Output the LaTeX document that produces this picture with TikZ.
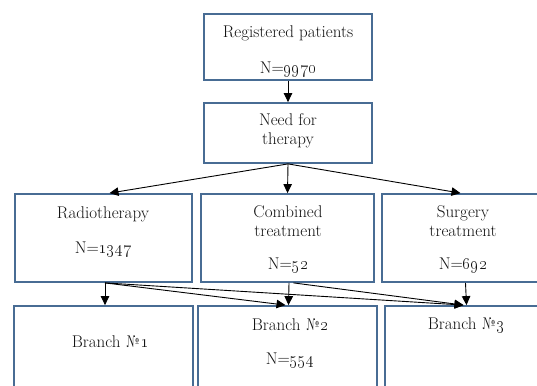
\documentclass[tikz,border=0pt]{standalone}
\usetikzlibrary{arrows.meta,calc}
\definecolor{boxblue}{RGB}{72,108,148}
\definecolor{txt}{RGB}{20,20,20}
\begin{document}
\begin{tikzpicture}[x=1pt,y=-1pt,
  box/.style={draw=boxblue,line width=1.8pt,fill=white,rectangle,inner sep=0pt},
  lbl/.style={text=txt,font=\fontsize{17}{18.5}\selectfont,align=center,inner sep=0pt},
  arr/.style={line width=0.9pt,-{Triangle[length=9pt,width=8.5pt]}}]
\useasboundingbox (0,0) rectangle (537,385);
\clip (0,0) rectangle (537,385);
\fill[white] (0,0) rectangle (537,385);
% boxes
\node[box,minimum width=168pt,minimum height=66pt] (reg) at (288,47) {};
\node[box,minimum width=168pt,minimum height=60pt] (need) at (288,133) {};
\node[box,minimum width=177pt,minimum height=88pt] (radio) at (103.5,238) {};
\node[box,minimum width=173pt,minimum height=88pt] (comb) at (287.5,238) {};
\node[box,minimum width=163pt,minimum height=88pt] (surg) at (463.5,238) {};
\node[box,minimum width=179pt,minimum height=94pt] (b1) at (103.5,353) {};
\node[box,minimum width=179pt,minimum height=94pt] (b2) at (287.5,353) {};
\node[box,minimum width=163pt,minimum height=94pt] (b3) at (466.5,353) {};
% texts
\node[lbl] (t1) at (288,33) {Registered patients};
\node[lbl] (t2) at (288,69) {N=\oldstylenums{9970}};
\node[lbl] (t3) at (288,130.5) {Need for\\[0.5pt]therapy};
\node[lbl] (t4) at (103,214) {Radiotherapy};
\node[lbl] (t5) at (103,249) {N=\oldstylenums{1347}};
\node[lbl] (t6) at (288,221.5) {Combined\\[0.5pt]treatment};
\node[lbl] (t7) at (288,265) {N=\oldstylenums{52}};
\node[lbl] (t8) at (463,221.5) {Surgery\\[0.5pt]treatment};
\node[lbl] (t9) at (463,265) {N=\oldstylenums{692}};
\node[lbl] (t10) at (110,342) {Branch \textnumero\oldstylenums{1}};
\node[lbl] (t11) at (290,325) {Branch \textnumero\oldstylenums{2}};
\node[lbl] (t12) at (290,360) {N=\oldstylenums{554}};
\node[lbl] (t13) at (466,325) {Branch \textnumero\oldstylenums{3}};
% connectors
\draw[arr] (reg.south) -- (need.north);
\draw[arr] (need.south) -- ($(radio.north)+(6,0)$);
\draw[arr] (need.south) -- (comb.north);
\draw[arr] (need.south) -- ($(surg.north)+(-3,0)$);
\draw[arr] ($(radio.south)+(1.5,0)$) -- ($(b1.north)+(1.5,0)$);
\draw[arr] ($(radio.south)+(1.5,0)$) -- ($(b2.north)+(-2,0)$);
\draw[arr] ($(radio.south)+(1.5,0)$) -- ($(b3.north)+(-3,0)$);
\draw[arr] ($(comb.south)+(1.5,0)$) -- ($(b2.north)+(1,0)$);
\draw[arr] ($(comb.south)+(6,0)$) -- ($(b3.north)+(-3,0)$);
\draw[arr] ($(surg.south)+(2,0)$) -- ($(b3.north)+(0,0)$);
\end{tikzpicture}
\end{document}
